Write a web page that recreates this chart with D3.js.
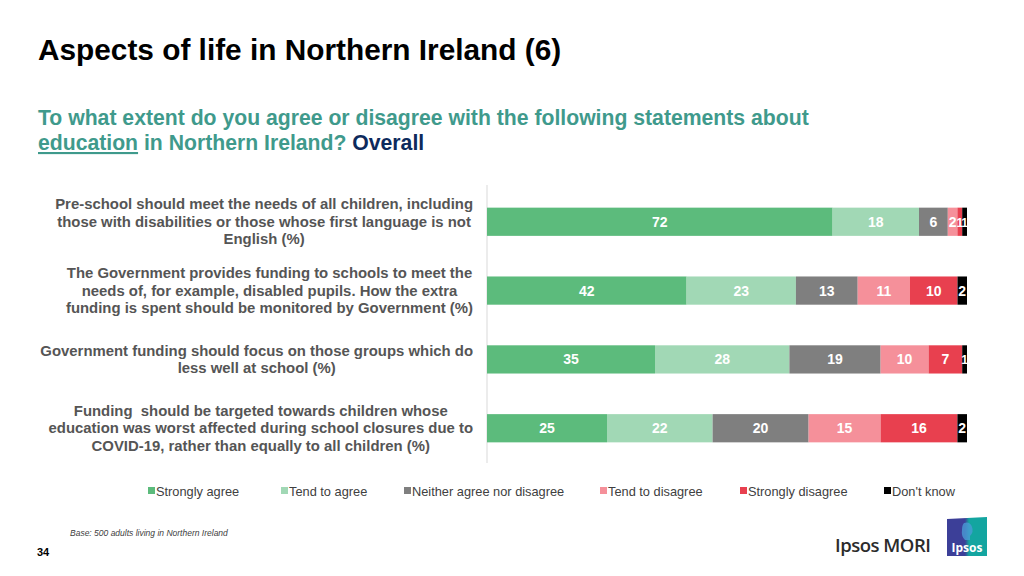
<!DOCTYPE html>
<html><head><meta charset="utf-8">
<script src="https://cdn.jsdelivr.net/npm/d3@7"></script>
<style>body{margin:0;background:#fff}svg{display:block}</style>
</head><body>
<svg id="c" width="1024" height="576"></svg>
<script>
const categories = [
  ["Pre-school should meet the needs of all children, including","those with disabilities or those whose first language is not","English (%)"],
  ["The Government provides funding to schools to meet the","needs of, for example, disabled pupils. How the extra","funding is spent should be monitored by Government (%)"],
  ["Government funding should focus on those groups which do","less well at school (%)"],
  ["Funding\u00a0 should be targeted towards children whose","education was worst affected during school closures due to","COVID-19, rather than equally to all children (%)"]
];
const seriesNames = ["Strongly agree","Tend to agree","Neither agree nor disagree","Tend to disagree","Strongly disagree","Don't know"];
const stronglyAgree = [72,42,35,25];
const tendAgree = [18,23,28,22];
const neither = [6,13,19,20];
const tendDisagree = [2,11,10,15];
const stronglyDisagree = [1,10,7,16];
const dontKnow = [1,2,1,2];
const colors = ["#5cbb7c","#a1d8b5","#7f7f7f","#f5909a","#e8404f","#000000"];

const svg = d3.select("#c");
const F = "Liberation Sans, Arial, Helvetica, sans-serif";

// Title
svg.append("text").attr("x",38).attr("y",60).attr("font-family",F).attr("font-weight","bold")
  .attr("font-size",29.8).attr("fill","#000").text("Aspects of life in Northern Ireland (6)");
const sub = svg.append("g").attr("font-family",F).attr("font-weight","bold").attr("font-size",21.2).attr("fill","#3f9a8c");
sub.append("text").attr("x",38).attr("y",125).text("To what extent do you agree or disagree with the following statements about");
const l2 = sub.append("text").attr("x",38).attr("y",150);
l2.append("tspan").attr("text-decoration","underline").text("education");
l2.append("tspan").text(" in Northern Ireland? ");
l2.append("tspan").attr("fill","#0d2a5c").text("Overall");

// Data table
const series = [stronglyAgree,tendAgree,neither,tendDisagree,stronglyDisagree,dontKnow];
const rows = categories.map((c,i)=>{
  const o={idx:i};
  seriesNames.forEach((s,j)=>o[s]=series[j][i]);
  return o;
});
const totals = rows.map(r=>d3.sum(seriesNames,s=>r[s]));
const normRows = rows.map((r,i)=>{const o={idx:i};seriesNames.forEach(s=>o[s]=r[s]/totals[i]);return o;});
const stack = d3.stack().keys(seriesNames)(normRows);

const x = d3.scaleLinear().domain([0,1]).range([487,967]);
const y = d3.scaleBand().domain(d3.range(categories.length)).range([187,463]).paddingInner(0.59).paddingOuter(0.3);

// axis line
svg.append("line").attr("x1",487).attr("x2",487).attr("y1",185).attr("y2",463).attr("stroke","#d9d9d9").attr("stroke-width",1);

stack.forEach((layer,j)=>{
  const g = svg.append("g");
  g.selectAll("rect").data(layer).join("rect")
    .attr("x",d=>x(d[0])).attr("width",d=>x(d[1])-x(d[0]))
    .attr("y",(d,i)=>y(i)).attr("height",y.bandwidth()).attr("fill",colors[j]);
  g.selectAll("text").data(layer).join("text")
    .attr("x",d=>(x(d[0])+x(d[1]))/2).attr("y",(d,i)=>y(i)+y.bandwidth()/2+5)
    .attr("text-anchor","middle").attr("font-family",F).attr("font-weight","bold")
    .attr("font-size",(d,i)=>(x(d[1])-x(d[0]))<8 ? 12 : 14)
    .attr("fill","#fff").text((d,i)=>series[j][i]);
});

// category labels
categories.forEach((lines,i)=>{
  const cy = y(i)+y.bandwidth()/2;
  const g = svg.append("g").attr("font-family",F).attr("font-weight","bold").attr("font-size",14.9).attr("fill","#555");
  const ts = lines.map((ln,k)=>g.append("text").attr("y",cy+(k-(lines.length-1)/2)*17.5+5).text(ln));
  const maxW = d3.max(ts,t=>t.node().getComputedTextLength());
  const cx = 473 - maxW/2;
  ts.forEach(t=>t.attr("x",cx).attr("text-anchor","middle"));
});

// legend
const legX = [148,281,404,600,740,884];
const lg = svg.append("g").attr("font-family",F).attr("font-size",12.8).attr("fill","#404040");
seriesNames.forEach((s,j)=>{
  lg.append("rect").attr("x",legX[j]).attr("y",487).attr("width",7).attr("height",7).attr("fill",colors[j]);
  lg.append("text").attr("x",legX[j]+8).attr("y",496).text(s);
});

// footer
svg.append("text").attr("x",70).attr("y",536).attr("font-family",F).attr("font-style","italic").attr("font-size",8.5).attr("fill","#404040")
  .text("Base: 500 adults living in Northern Ireland");
svg.append("text").attr("x",37).attr("y",556).attr("font-family",F).attr("font-weight","bold").attr("font-size",11).attr("fill","#000").text("34");

// logo
svg.append("text").attr("x",835).attr("y",552).attr("font-family","Open Sans, sans-serif").attr("font-weight","600").attr("font-size",18.5)
  .attr("fill","#2b2b2b").attr("letter-spacing",-0.5).text("Ipsos MORI");
const defs = svg.append("defs");
const gr = defs.append("linearGradient").attr("id","lg").attr("x1","0").attr("x2","1");
gr.append("stop").attr("offset","0.45").attr("stop-color","#3c3f98");
gr.append("stop").attr("offset","0.55").attr("stop-color","#13a5a0");
svg.append("path").attr("d","M947,519 L987,517 L987,556 L947,556 Z").attr("fill","url(#lg)");
svg.append("path").attr("d","M964,523 q6,-2 8,4 q2,5 -2,9 l0,4 l-5,0 q-4,-4 -3,-10 q0,-5 2,-7z").attr("fill","#4a9bd6").attr("opacity",0.8);
svg.append("text").attr("x",967).attr("y",552).attr("text-anchor","middle").attr("font-family","Open Sans, sans-serif").attr("font-weight","bold")
  .attr("font-size",12).attr("fill","#fff").text("Ipsos");
</script>
</body></html>
